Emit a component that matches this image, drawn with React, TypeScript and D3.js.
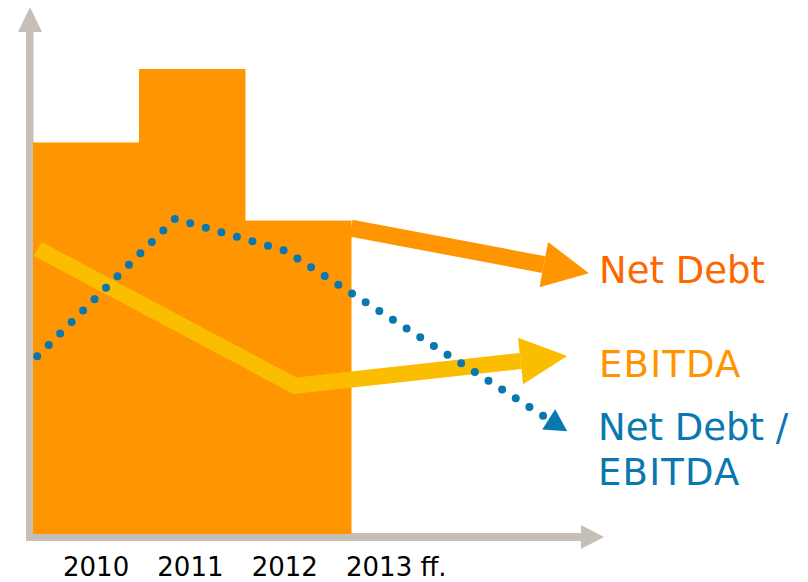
import React from "react";
import * as d3 from "d3";

// ---- data ----
const barCategories = ["2010", "2011", "2012"];
const netDebtBars = [84.2, 100, 67.4];
const yearLabels = ["2010", "2011", "2012", "2013 ff."];

// line series: [position (bar units), value]
const ratioPoints: [number, number][] = [
  [0.04, 38.2],
  [1.34, 67.8],
  [2.38, 60.9],
  [5.04, 22.1],
];
const ebitdaPoints: [number, number][] = [
  [0.045, 61.3],
  [2.47, 31.9],
  [5.04, 38.3],
];
const netDebtArrow: [number, number][] = [
  [3.0, 65.8],
  [5.245, 56.1],
];

const legendLabels = ["Net Debt", "EBITDA", "Net Debt /", "EBITDA"];

const W = 808;
const H = 582;

const ORANGE = "#FF9500";
const YELLOW = "#FBBD00";
const BLUE = "#0A78B0";
const GRAY = "#C6BFB8";

function arrowParts(
  pts: [number, number][],
  headLen: number,
  headHalf: number
) {
  const n = pts.length;
  const tip = pts[n - 1];
  const prev = pts[n - 2];
  const dx = tip[0] - prev[0];
  const dy = tip[1] - prev[1];
  const len = Math.hypot(dx, dy);
  const ux = dx / len;
  const uy = dy / len;
  const base: [number, number] = [tip[0] - ux * headLen, tip[1] - uy * headLen];
  const linePts = [...pts.slice(0, n - 1), base];
  const head = [
    [base[0] - uy * headHalf, base[1] + ux * headHalf],
    [base[0] + uy * headHalf, base[1] - ux * headHalf],
    tip,
  ];
  return { linePts, head };
}

export default function App() {
  const x = d3.scaleLinear().domain([0, 3]).range([33, 351]);
  const y = d3.scaleLinear().domain([0, 100]).range([534, 69]);
  const labelX = d3.scalePoint<string>().domain(yearLabels).range([63, 346]);

  const toPx = (p: [number, number][]) =>
    p.map((d) => [x(d[0]), y(d[1])] as [number, number]);
  const line = d3.line<[number, number]>().x((d) => d[0]).y((d) => d[1]);

  const nd = arrowParts(toPx(netDebtArrow), 46, 23);
  const eb = arrowParts(toPx(ebitdaPoints), 47, 23.5);
  const ra = arrowParts(toPx(ratioPoints), 22, 12);

  const poly = (pts: number[][]) => pts.map((p) => p.join(",")).join(" ");

  return (
    <svg
      width={W}
      height={H}
      style={{ position: "absolute", left: 0, top: 0 }}
      fontFamily="'DejaVu Sans', Verdana, sans-serif"
    >
      <rect width={W} height={H} fill="#ffffff" />
      {/* axes */}
      <rect x={26} y={31} width={7.5} height={510} fill={GRAY} />
      <polygon points="18,32 42,32 30,7" fill={GRAY} />
      <rect x={30} y={533} width={552} height={8} fill={GRAY} />
      <polygon points="581,525 581,549 604,537" fill={GRAY} />

      {/* bars */}
      {netDebtBars.map((v, i) => (
        <rect
          key={barCategories[i]}
          x={x(i)}
          y={y(v)}
          width={x(i + 1) - x(i) + 0.5}
          height={y(0) - y(v)}
          fill={ORANGE}
        />
      ))}

      {/* Net Debt arrow */}
      <path d={line(nd.linePts) || ""} fill="none" stroke={ORANGE} strokeWidth={17} />
      <polygon points={poly(nd.head)} fill={ORANGE} />

      {/* EBITDA arrow */}
      <path
        d={line(eb.linePts) || ""}
        fill="none"
        stroke={YELLOW}
        strokeWidth={16}
        strokeLinejoin="miter"
      />
      <polygon points={poly(eb.head)} fill={YELLOW} />

      {/* Net Debt / EBITDA dotted arrow */}
      <path
        d={line(ra.linePts) || ""}
        fill="none"
        stroke={BLUE}
        strokeWidth={8}
        strokeLinecap="round"
        strokeDasharray="0 16.2"
      />
      <polygon points={poly(ra.head)} fill={BLUE} />

      {/* year labels */}
      {yearLabels.map((t) => (
        <text key={t} x={labelX(t)} y={576} fontSize={26} fill="#000">
          {t}
        </text>
      ))}

      {/* legend labels */}
      <text x={599} y={283} fontSize={37} fill="#FF6600">
        {legendLabels[0]}
      </text>
      <text x={599} y={377} fontSize={37} fill="#FF9400" letterSpacing={1.2}>
        {legendLabels[1]}
      </text>
      <text x={598} y={440} fontSize={37} fill="#0A78B0">
        {legendLabels[2]}
      </text>
      <text x={598} y={485} fontSize={37} fill="#0A78B0" letterSpacing={1.2}>
        {legendLabels[3]}
      </text>
    </svg>
  );
}
